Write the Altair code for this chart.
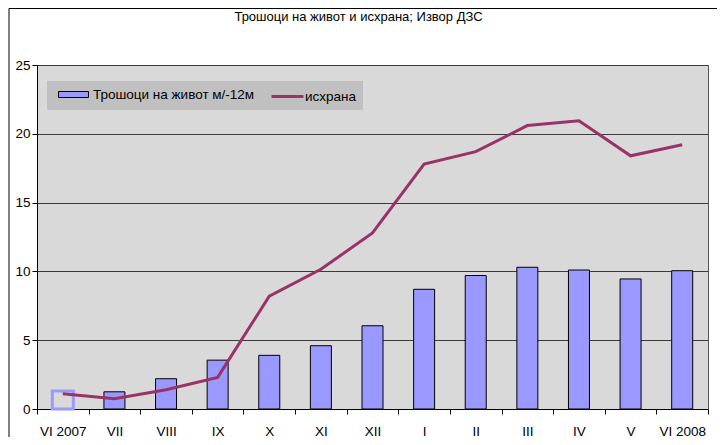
import altair as alt
import pandas as pd

categories = ["VI 2007", "VII", "VIII", "IX", "X", "XI", "XII", "I", "II", "III", "IV", "V", "VI 2008"]
cost_values = [1.3, 1.25, 2.2, 3.55, 3.9, 4.6, 6.05, 8.7, 9.7, 10.3, 10.1, 9.45, 10.05]
food_values = [1.1, 0.75, 1.4, 2.3, 8.2, 10.15, 12.8, 17.8, 18.7, 20.6, 20.95, 18.4, 19.2]
series_names = ["Трошоци на живот м/-12м", "исхрана"]
y_ticks = [0, 5, 10, 15, 20, 25]
title_text = "Трошоци на живот и исхрана; Извор ДЗС"

FONT = "Liberation Sans"
BAR_COLOR = "#9999FF"
LINE_COLOR = "#993366"

df = pd.DataFrame({"month": categories, "cost": cost_values, "food": food_values})
df["s_cost"] = series_names[0]
df["s_food"] = series_names[1]

x_enc = alt.X(
    "month:N",
    sort=categories,
    scale=alt.Scale(paddingInner=0, paddingOuter=0),
    axis=alt.Axis(title=None, labelAngle=0, tickBand="extent", tickSize=5,
                  labelPadding=10, grid=False),
)
y_scale = alt.Scale(domain=[0, 25], nice=False)

backdrop = alt.Chart(pd.DataFrame({"k": [0]})).mark_rect(fill="#C0C0C0").encode(
    x=alt.value(10), x2=alt.value(326), y=alt.value(16), y2=alt.value(45)
)

frame = alt.Chart(pd.DataFrame({"k": [0]})).mark_rect(
    fill="transparent", stroke="black", strokeWidth=1
).encode(x=alt.value(-28), x2=alt.value(720), y=alt.value(-56.5), y2=alt.value(420))

first = "datum.month == 'VI 2007'"
bars = alt.Chart(df).mark_bar(size=21).encode(
    x=x_enc,
    y=alt.Y("cost:Q", scale=y_scale,
            axis=alt.Axis(title=None, values=y_ticks, grid=True, gridColor="#3a3a3a",
                          tickSize=5, labelPadding=2)),
    fill=alt.Fill("s_cost:N", scale=alt.Scale(domain=[series_names[0]], range=[BAR_COLOR]),
                  legend=alt.Legend(orient="none", legendX=21, legendY=14, title=None,
                                    direction="horizontal", padding=0,
                                    symbolType="M-1,-0.2H1V0.2H-1Z", symbolSize=900,
                                    symbolStrokeColor="black", symbolStrokeWidth=1,
                                    symbolFillColor=BAR_COLOR, symbolOpacity=1,
                                    labelOffset=4, labelFontSize=13.5, labelFont=FONT,
                                    labelColor="black", labelLimit=300)),
    stroke=alt.condition(first, alt.value(BAR_COLOR), alt.value("black")),
    fillOpacity=alt.condition(first, alt.value(0), alt.value(1)),
    strokeWidth=alt.condition(first, alt.value(3), alt.value(1)),
)

line = alt.Chart(df).mark_line(strokeWidth=3).encode(
    x=x_enc,
    y=alt.Y("food:Q", scale=y_scale),
    stroke=alt.Stroke("s_food:N", scale=alt.Scale(domain=[series_names[1]], range=[LINE_COLOR]),
                      legend=alt.Legend(orient="none", legendX=233, legendY=14, title=None,
                                        direction="horizontal", padding=0,
                                        symbolType="stroke", symbolSize=1024,
                                        symbolStrokeWidth=3, labelOffset=0,
                                        labelFontSize=13.5, labelFont=FONT,
                                        labelColor="black")),
)

chart = alt.layer(frame, backdrop, bars, line).resolve_scale(
    y="shared"
).properties(
    width=671,
    height=344,
    title=alt.TitleParams(title_text, anchor="middle", fontSize=13, font=FONT,
                          fontWeight="normal", color="black", offset=-16, dx=-14),
    autosize=alt.AutoSizeParams(type="none"),
    padding={"left": 29, "top": 57, "right": 9, "bottom": 28},
).configure_view(
    fill="#D9D9D9", stroke="#555555", strokeWidth=1
).configure_axis(
    labelFont=FONT, labelFontSize=13.5, labelColor="black",
    domainColor="black", tickColor="black",
)

chart.save("out.html", embed_options={"renderer": "svg", "actions": False})
